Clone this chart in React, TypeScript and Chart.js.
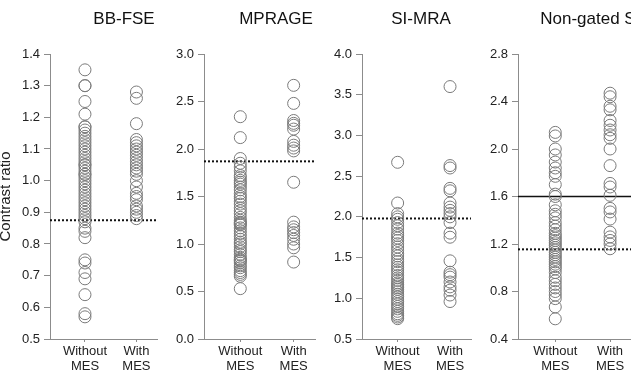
import React, { useEffect, useRef } from 'react';
import { Chart, registerables } from 'chart.js';

Chart.register(...registerables);

// ---------------- data ----------------
const PANEL_TITLES = ['BB-FSE', 'MPRAGE', 'SI-MRA', 'Non-gated SI-MRA'];
const CATEGORY_X = [1, 2];
const CATEGORY_LABELS = [['Without', 'MES'], ['With', 'MES']];
const Y_AXIS_TITLE = 'Contrast ratio';

const Y_MIN = [0.5, 0.0, 0.5, 0.4];
const Y_MAX = [1.4, 3.0, 4.0, 2.8];
const Y_STEP = [0.1, 0.5, 0.5, 0.4];

const bbfseWithout = [1.35, 1.30, 1.30, 1.25, 1.21, 1.17, 1.17, 1.16, 1.15, 1.14, 1.13, 1.12, 1.11, 1.10, 1.09, 1.08, 1.07, 1.06, 1.05, 1.05, 1.04, 1.03, 1.02, 1.02, 1.01, 1.00, 0.99, 0.98, 0.97, 0.96, 0.95, 0.94, 0.93, 0.92, 0.91, 0.90, 0.89, 0.88, 0.87, 0.85, 0.84, 0.82, 0.75, 0.74, 0.71, 0.69, 0.64, 0.58, 0.57];
const bbfseWith = [1.28, 1.26, 1.18, 1.13, 1.12, 1.11, 1.10, 1.09, 1.08, 1.07, 1.06, 1.05, 1.04, 1.03, 1.02, 1.00, 0.98, 0.96, 0.95, 0.94, 0.92, 0.91, 0.90, 0.89, 0.88];

const mprageWithout = [2.34, 2.12, 1.90, 1.85, 1.81, 1.77, 1.72, 1.70, 1.67, 1.65, 1.63, 1.60, 1.57, 1.53, 1.50, 1.48, 1.45, 1.42, 1.38, 1.35, 1.32, 1.28, 1.25, 1.23, 1.22, 1.21, 1.20, 1.17, 1.14, 1.11, 1.08, 1.05, 1.02, 1.00, 0.97, 0.94, 0.92, 0.89, 0.86, 0.84, 0.83, 0.82, 0.80, 0.77, 0.75, 0.72, 0.70, 0.68, 0.66, 0.53];
const mprageWith = [2.67, 2.48, 2.30, 2.27, 2.25, 2.21, 2.08, 2.04, 2.01, 1.98, 1.65, 1.23, 1.18, 1.15, 1.12, 1.09, 1.05, 1.00, 0.96, 0.81];

const simraWithout = [2.67, 2.17, 2.04, 2.00, 1.97, 1.93, 1.89, 1.85, 1.80, 1.77, 1.74, 1.71, 1.67, 1.63, 1.59, 1.55, 1.52, 1.48, 1.45, 1.41, 1.38, 1.35, 1.32, 1.28, 1.25, 1.22, 1.19, 1.17, 1.15, 1.13, 1.11, 1.08, 1.05, 1.02, 0.99, 0.96, 0.93, 0.90, 0.87, 0.84, 0.81, 0.79, 0.77, 0.75];
const simraWith = [3.60, 2.63, 2.60, 2.35, 2.32, 2.17, 2.12, 2.08, 2.04, 2.00, 1.93, 1.80, 1.75, 1.46, 1.32, 1.29, 1.26, 1.20, 1.14, 1.10, 1.04, 0.96];

const nongatedWithout = [2.14, 2.11, 2.00, 1.95, 1.89, 1.84, 1.80, 1.77, 1.70, 1.62, 1.60, 1.53, 1.48, 1.45, 1.42, 1.38, 1.35, 1.32, 1.29, 1.27, 1.25, 1.23, 1.21, 1.19, 1.17, 1.15, 1.13, 1.11, 1.09, 1.07, 1.05, 1.03, 1.01, 0.99, 0.96, 0.92, 0.89, 0.86, 0.83, 0.80, 0.77, 0.74, 0.67, 0.57];
const nongatedWith = [2.47, 2.44, 2.36, 2.33, 2.24, 2.20, 2.16, 2.12, 2.09, 2.00, 1.86, 1.71, 1.68, 1.61, 1.50, 1.47, 1.41, 1.30, 1.26, 1.23, 1.20, 1.16];

const WITHOUT_VALUES = [bbfseWithout, mprageWithout, simraWithout, nongatedWithout];
const WITH_VALUES = [bbfseWith, mprageWith, simraWith, nongatedWith];
const DOTTED_LEVELS = [0.875, 1.87, 1.98, 1.155];
const SOLID_LEVELS: (number | null)[] = [null, null, null, 1.6];

// ---------------- layout / style ----------------
const FONT = '"Liberation Sans", Arial, Helvetica, sans-serif';
const X_MIN = 0.32;
const X_MAX = 2.4;
const H = 373;
const AREA_TOP = 54;
const AREA_BOTTOM = 339;
const AXIS_COLOR = '#8c8c8c';
const TEXT_COLOR = '#222';
const CIRCLE_COLOR = '#7a7a7a';

const LAYOUT = [
  { canvasLeft: -10, canvasWidth: 174, areaLeft: 50, areaRight: 162, titleX: 124 },
  { canvasLeft: 164, canvasWidth: 158, areaLeft: 204, areaRight: 318, titleX: 276 },
  { canvasLeft: 322, canvasWidth: 156, areaLeft: 362, areaRight: 476, titleX: 421 },
  { canvasLeft: 478, canvasWidth: 200, areaLeft: 518, areaRight: 632, titleX: 612 },
];

const panelTitlePlugin = {
  id: 'panelTitle',
  afterDraw(chart: any, _args: any, opts: any) {
    const ctx = chart.ctx;
    ctx.save();
    ctx.font = `17px ${FONT}`;
    ctx.fillStyle = '#111';
    ctx.textAlign = 'center';
    ctx.textBaseline = 'middle';
    ctx.fillText(opts.text, opts.x, opts.y);
    ctx.restore();
  },
};

function Panel({ index }: { index: number }) {
  const ref = useRef<HTMLCanvasElement | null>(null);
  const lay = LAYOUT[index];

  useEffect(() => {
    if (!ref.current) return;
    const circleStyle = {
      type: 'scatter' as const,
      pointRadius: 6,
      pointBorderWidth: 1,
      pointBorderColor: CIRCLE_COLOR,
      pointBackgroundColor: 'rgba(0,0,0,0)',
      borderColor: CIRCLE_COLOR,
      backgroundColor: 'rgba(0,0,0,0)',
    };
    const datasets: any[] = [
      { ...circleStyle, data: WITHOUT_VALUES[index].map((v) => ({ x: CATEGORY_X[0], y: v })) },
      { ...circleStyle, data: WITH_VALUES[index].map((v) => ({ x: CATEGORY_X[1], y: v })) },
      {
        type: 'line',
        data: [{ x: X_MIN, y: DOTTED_LEVELS[index] }, { x: X_MAX, y: DOTTED_LEVELS[index] }],
        borderColor: '#111',
        borderWidth: 2,
        borderDash: [2, 2],
        pointRadius: 0,
        fill: false,
      },
    ];
    const solid = SOLID_LEVELS[index];
    if (solid !== null) {
      datasets.push({
        type: 'line',
        data: [{ x: X_MIN, y: solid }, { x: X_MAX, y: solid }],
        borderColor: '#111',
        borderWidth: 1.6,
        pointRadius: 0,
        fill: false,
      });
    }

    const chart = new Chart(ref.current, {
      type: 'scatter',
      data: { datasets },
      options: {
        responsive: false,
        animation: false,
        devicePixelRatio: 1,
        layout: {
          padding: {
            top: AREA_TOP,
            bottom: 0,
            left: 0,
            right: lay.canvasLeft + lay.canvasWidth - lay.areaRight,
          },
        },
        plugins: {
          legend: { display: false },
          tooltip: { enabled: false },
          title: { display: false },
          panelTitle: { text: PANEL_TITLES[index], x: lay.titleX - lay.canvasLeft, y: 19 },
        } as any,
        scales: {
          x: {
            type: 'linear',
            min: X_MIN,
            max: X_MAX,
            afterBuildTicks: (s: any) => {
              s.ticks = CATEGORY_X.map((v) => ({ value: v }));
            },
            afterFit: (s: any) => {
              s.height = H - AREA_BOTTOM;
            },
            ticks: {
              autoSkip: false,
              maxRotation: 0,
              padding: 2,
              color: TEXT_COLOR,
              font: { size: 13, family: FONT, lineHeight: 1.15 },
              callback: (v: any) => {
                const i = CATEGORY_X.indexOf(Number(v));
                return i >= 0 ? CATEGORY_LABELS[i] : '';
              },
            },
            grid: { display: true, drawOnChartArea: false, drawTicks: true, tickLength: 3, color: AXIS_COLOR },
            border: { display: true, color: AXIS_COLOR, width: 1 },
          },
          y: {
            type: 'linear',
            min: Y_MIN[index],
            max: Y_MAX[index],
            afterFit: (s: any) => {
              s.width = lay.areaLeft - lay.canvasLeft;
            },
            ticks: {
              stepSize: Y_STEP[index],
              padding: 4,
              color: TEXT_COLOR,
              font: { size: 13, family: FONT },
              callback: (v: any) => Number(v).toFixed(1),
            },
            grid: { display: true, drawOnChartArea: false, drawTicks: true, tickLength: 6, color: AXIS_COLOR },
            border: { display: true, color: AXIS_COLOR, width: 1 },
            title: index === 0
              ? { display: true, text: Y_AXIS_TITLE, color: TEXT_COLOR, font: { size: 15, family: FONT }, padding: { top: 7, bottom: 0 } }
              : { display: false },
          },
        },
      } as any,
      plugins: [panelTitlePlugin],
    });
    return () => chart.destroy();
  }, [index]);

  return (
    <canvas
      ref={ref}
      width={lay.canvasWidth}
      height={H}
      style={{ position: 'absolute', left: lay.canvasLeft, top: 0, width: lay.canvasWidth, height: H }}
    />
  );
}

export default function App() {
  Chart.defaults.font.family = FONT;
  return (
    <div
      style={{
        position: 'absolute',
        left: 0,
        top: 0,
        width: 631,
        height: H,
        overflow: 'hidden',
        background: '#fff',
      }}
    >
      {PANEL_TITLES.map((_, i) => (
        <Panel key={i} index={i} />
      ))}
    </div>
  );
}
